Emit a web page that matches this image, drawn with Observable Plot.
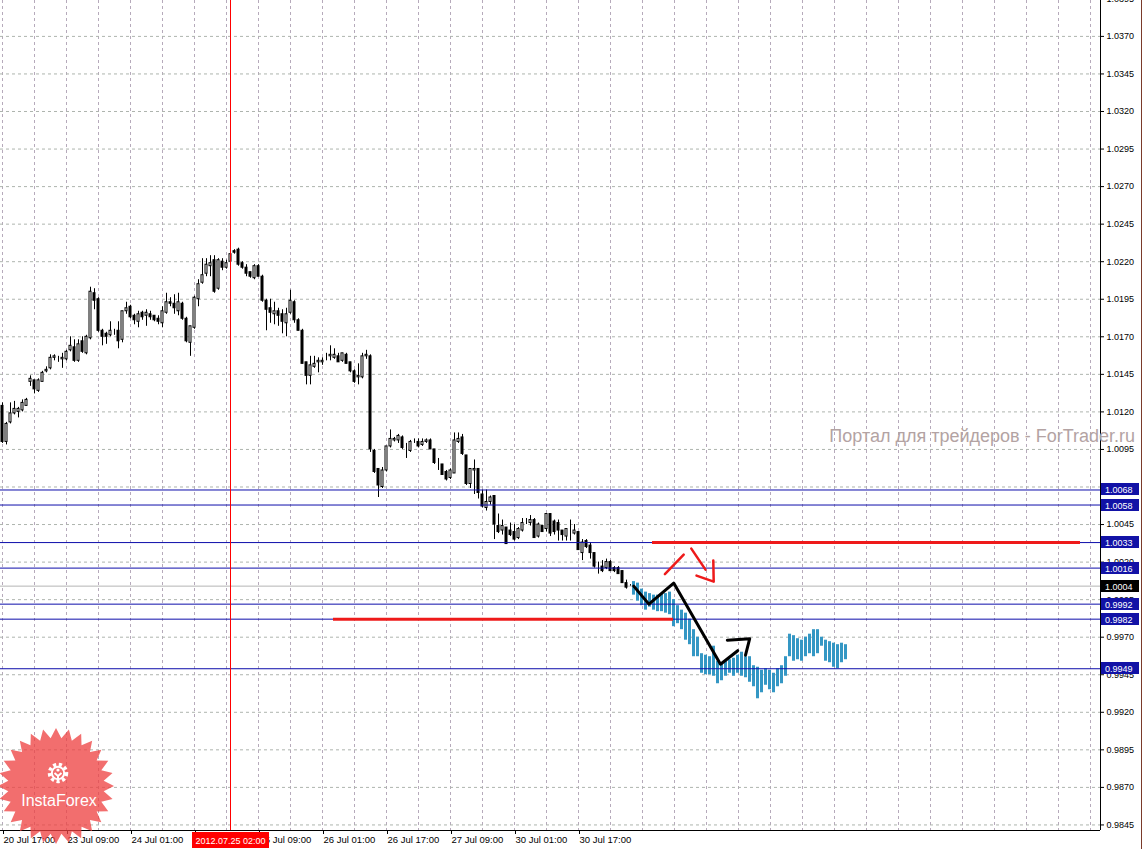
<!DOCTYPE html>
<html><head><meta charset="utf-8">
<script src="https://cdn.jsdelivr.net/npm/d3@7"></script>
<script src="https://cdn.jsdelivr.net/npm/@observablehq/plot@0.6"></script>
<style>
html,body{margin:0;padding:0;background:#fff;}
#chart{position:relative;width:1143px;height:849px;overflow:hidden;background:#fff;}
</style>
</head><body><div id="chart"></div>
<script>
// ---- H1 candles (bar index 0 = 20 Jul 17:00) ----
const open = [1.0124,1.0100,1.0113,1.0119,1.0120,1.0121,1.0124,1.0140,1.0141,1.0134,
1.0140,1.0147,1.0149,1.0156,1.0155,1.0155,1.0155,1.0161,1.0163,1.0154,
1.0167,1.0159,1.0169,1.0199,1.0195,1.0174,1.0172,1.0171,1.0173,1.0174,
1.0168,1.0187,1.0190,1.0184,1.0180,1.0186,1.0184,1.0185,1.0184,1.0182,
1.0179,1.0186,1.0193,1.0192,1.0187,1.0192,1.0182,1.0166,1.0176,1.0195,
1.0206,1.0212,1.0217,1.0221,1.0202,1.0220,1.0216,1.0220,1.0227,1.0228,
1.0219,1.0216,1.0213,1.0209,1.0217,1.0210,1.0194,1.0189,1.0185,1.0187,
1.0185,1.0179,1.0186,1.0193,1.0181,1.0174,1.0153,1.0144,1.0150,1.0153,
1.0153,1.0155,1.0157,1.0156,1.0157,1.0154,1.0158,1.0153,1.0147,1.0143,
1.0143,1.0157,1.0157,1.0094,1.0082,1.0070,1.0081,1.0097,1.0101,1.0101,
1.0103,1.0096,1.0094,1.0100,1.0100,1.0098,1.0100,1.0101,1.0095,1.0086,
1.0085,1.0080,1.0076,1.0079,1.0100,1.0103,1.0091,1.0072,1.0081,1.0082,
1.0065,1.0056,1.0060,1.0064,1.0044,1.0041,1.0043,1.0041,1.0040,1.0036,
1.0041,1.0047,1.0046,1.0048,1.0037,1.0044,1.0042,1.0052,1.0047,1.0046,
1.0041,1.0037,1.0040,1.0039,1.0040,1.0026,1.0034,1.0031,1.0026,1.0017,
1.0017,1.0016,1.0020,1.0016,1.0016,1.0014,1.0006,1.0004];
const high = [1.0126,1.0113,1.0126,1.0127,1.0123,1.0128,1.0129,1.0144,1.0141,1.0142,
1.0147,1.0150,1.0158,1.0158,1.0157,1.0159,1.0161,1.0170,1.0168,1.0168,
1.0170,1.0171,1.0203,1.0202,1.0196,1.0175,1.0173,1.0180,1.0175,1.0180,
1.0187,1.0193,1.0191,1.0185,1.0187,1.0187,1.0188,1.0187,1.0184,1.0184,
1.0190,1.0199,1.0196,1.0198,1.0199,1.0193,1.0183,1.0177,1.0197,1.0208,
1.0222,1.0222,1.0224,1.0224,1.0222,1.0222,1.0221,1.0226,1.0228,1.0229,
1.0220,1.0218,1.0213,1.0218,1.0218,1.0211,1.0195,1.0195,1.0193,1.0189,
1.0188,1.0189,1.0201,1.0194,1.0182,1.0175,1.0153,1.0157,1.0157,1.0156,
1.0156,1.0159,1.0164,1.0162,1.0159,1.0159,1.0159,1.0153,1.0148,1.0152,
1.0159,1.0161,1.0158,1.0095,1.0082,1.0083,1.0097,1.0108,1.0103,1.0105,
1.0104,1.0099,1.0101,1.0102,1.0102,1.0102,1.0102,1.0102,1.0095,1.0089,
1.0085,1.0081,1.0082,1.0106,1.0106,1.0105,1.0091,1.0082,1.0088,1.0082,
1.0068,1.0068,1.0064,1.0064,1.0052,1.0048,1.0043,1.0046,1.0045,1.0043,
1.0049,1.0049,1.0051,1.0049,1.0046,1.0044,1.0052,1.0052,1.0048,1.0048,
1.0041,1.0042,1.0048,1.0045,1.0040,1.0035,1.0035,1.0033,1.0026,1.0020,
1.0021,1.0022,1.0021,1.0017,1.0017,1.0014,1.0008,1.0005];
const low = [1.0099,1.0098,1.0112,1.0118,1.0116,1.0120,1.0124,1.0137,1.0132,1.0133,
1.0140,1.0146,1.0148,1.0154,1.0153,1.0149,1.0154,1.0160,1.0153,1.0153,
1.0159,1.0158,1.0168,1.0188,1.0173,1.0164,1.0165,1.0170,1.0171,1.0162,
1.0166,1.0185,1.0182,1.0178,1.0176,1.0181,1.0177,1.0181,1.0180,1.0178,
1.0176,1.0185,1.0190,1.0185,1.0184,1.0181,1.0166,1.0157,1.0175,1.0190,
1.0205,1.0210,1.0210,1.0199,1.0201,1.0214,1.0215,1.0219,1.0225,1.0217,
1.0215,1.0210,1.0209,1.0208,1.0210,1.0193,1.0174,1.0179,1.0178,1.0177,
1.0172,1.0170,1.0185,1.0179,1.0174,1.0152,1.0138,1.0138,1.0149,1.0146,
1.0151,1.0154,1.0154,1.0155,1.0153,1.0153,1.0152,1.0146,1.0139,1.0138,
1.0142,1.0155,1.0093,1.0079,1.0063,1.0069,1.0080,1.0096,1.0100,1.0099,
1.0095,1.0089,1.0093,1.0099,1.0096,1.0097,1.0099,1.0095,1.0085,1.0081,
1.0078,1.0074,1.0075,1.0079,1.0099,1.0091,1.0071,1.0069,1.0065,1.0062,
1.0056,1.0054,1.0058,1.0035,1.0039,1.0038,1.0032,1.0037,1.0034,1.0035,
1.0040,1.0045,1.0044,1.0036,1.0036,1.0040,1.0040,1.0037,1.0038,1.0034,
1.0034,1.0034,1.0034,1.0038,1.0028,1.0021,1.0029,1.0022,1.0016,1.0012,
1.0013,1.0015,1.0014,1.0013,1.0012,1.0006,1.0002,1.0004];
const close = [1.0100,1.0112,1.0119,1.0122,1.0122,1.0126,1.0128,1.0142,1.0135,1.0141,
1.0146,1.0148,1.0156,1.0157,1.0155,1.0156,1.0160,1.0164,1.0154,1.0165,
1.0160,1.0170,1.0200,1.0194,1.0174,1.0170,1.0170,1.0174,1.0173,1.0167,
1.0187,1.0189,1.0183,1.0181,1.0185,1.0183,1.0186,1.0183,1.0181,1.0180,
1.0187,1.0193,1.0192,1.0189,1.0193,1.0182,1.0167,1.0177,1.0196,1.0205,
1.0211,1.0218,1.0219,1.0200,1.0221,1.0216,1.0219,1.0225,1.0226,1.0218,
1.0216,1.0212,1.0210,1.0217,1.0210,1.0194,1.0188,1.0186,1.0187,1.0184,
1.0180,1.0185,1.0194,1.0181,1.0174,1.0152,1.0144,1.0151,1.0152,1.0154,
1.0154,1.0155,1.0158,1.0158,1.0153,1.0159,1.0152,1.0147,1.0140,1.0144,
1.0157,1.0158,1.0095,1.0080,1.0071,1.0081,1.0097,1.0102,1.0102,1.0104,
1.0096,1.0096,1.0100,1.0100,1.0097,1.0100,1.0101,1.0095,1.0086,1.0086,
1.0078,1.0075,1.0081,1.0101,1.0102,1.0092,1.0072,1.0082,1.0082,1.0066,
1.0057,1.0060,1.0063,1.0045,1.0040,1.0044,1.0032,1.0038,1.0035,1.0042,
1.0046,1.0047,1.0048,1.0036,1.0045,1.0040,1.0052,1.0039,1.0040,1.0041,
1.0038,1.0042,1.0040,1.0041,1.0028,1.0033,1.0030,1.0026,1.0017,1.0017,
1.0014,1.0020,1.0014,1.0014,1.0012,1.0006,1.0003,1.0004];

// ---- forecast histogram (bars 158..211) ----
const forecastStart = 158;
const forecastHi = [1.0007,1.0006,1.0002,1.0000,0.9999,0.9998,0.9998,0.9999,0.9999,1.0000,
0.9995,0.9991,0.9988,0.9986,0.9982,0.9975,0.9970,0.9959,0.9958,0.9957,
0.9964,0.9954,0.9953,0.9954,0.9955,0.9956,0.9958,0.9960,0.9957,0.9957,
0.9951,0.9950,0.9948,0.9949,0.9948,0.9946,0.9949,0.9951,0.9957,0.9972,
0.9971,0.9969,0.9968,0.9970,0.9972,0.9975,0.9975,0.9970,0.9968,0.9967,
0.9966,0.9965,0.9966,0.9965];
const forecastLo = [0.9998,0.9994,0.9991,0.9988,0.9990,0.9988,0.9987,0.9987,0.9986,0.9985,
0.9977,0.9979,0.9975,0.9968,0.9965,0.9957,0.9957,0.9946,0.9945,0.9945,
0.9944,0.9939,0.9941,0.9944,0.9946,0.9944,0.9946,0.9944,0.9943,0.9940,
0.9937,0.9929,0.9933,0.9938,0.9935,0.9933,0.9937,0.9939,0.9944,0.9957,
0.9954,0.9955,0.9954,0.9957,0.9959,0.9957,0.9959,0.9964,0.9954,0.9953,
0.9950,0.9949,0.9953,0.9955];

// ---- levels ----
const levels = [1.0068, 1.0058, 1.0033, 1.0016, 0.9992, 0.9982, 0.9949];
const bidPrice = 1.0004;
const redSegY = [1.0033, 0.9982];
const redSegFrom = [162.5, 82.75];
const redSegTo = [269.5, 167.75];
const markerBar = 57;
const markerLabel = "2012.07.25 02:00";

// ---- hand-drawn path annotations (bar index, price) ----
const zigGroup = [0,0,0,0,0, 1,1,1];
const zigBar = [157.8,161.6,167.8,179.5,183.8, 181.2,186.8,185.75];
const zigPrice = [1.0004,0.9992,1.0006,0.9952,0.9961, 0.9968,0.9969,0.9958];
const redGroup = [0,0, 1,1, 2,2,2];
const redBar = [165.6,170.3, 172.2,175.75, 173.5,177.8,177.7];
const redPrice = [1.0012,1.0025, 1.0029,1.0015, 1.0011,1.0007,1.0021];

// ---- axes ----
const yTicks = [1.0395,1.0370,1.0345,1.0320,1.0295,1.0270,1.0245,1.0220,1.0195,1.0170,1.0145,1.0120,
1.0095,1.0070,1.0045,1.0020,0.9995,0.9970,0.9945,0.9920,0.9895,0.9870,0.9845];
const xTickBars = [0,16,32,48,64,80,96,112,128,144];
const xTickLabels = ["20 Jul 17:00","23 Jul 09:00","24 Jul 01:00","24 Jul 17:00","25 Jul 09:00",
"26 Jul 01:00","26 Jul 17:00","27 Jul 09:00","30 Jul 01:00","30 Jul 17:00"];
const gridBars = d3.range(0, 274, 8);
const watermark = "Портал для трейдеров - ForTrader.ru";
const logoText = "InstaForex";

// ---- build tables ----
const candles = open.map((o, i) => ({i, o, h: high[i], l: low[i], c: close[i]}));
const forecast = forecastHi.map((h, k) => ({i: forecastStart + k, hi: h, lo: forecastLo[k]}));
const redSegs = redSegY.map((y, k) => ({y, x1: redSegFrom[k], x2: redSegTo[k]}));
const zig = zigBar.map((b, k) => ({i: b, p: zigPrice[k], g: zigGroup[k]}));
const redArrows = redBar.map((b, k) => ({i: b, p: redPrice[k], g: redGroup[k]}));
const xLab = new Map(xTickBars.map((b, k) => [b, xTickLabels[k]]));

const xDomain = [-0.5, 274.5];
const yDomain = [0.98413, 1.03939];
const RED = "#ee1a1a";
const FONT = "'Liberation Sans', Arial, sans-serif";

const plot = Plot.plot({
  width: 1143, height: 849,
  marginTop: 0, marginRight: 43, marginBottom: 19, marginLeft: 0,
  x: {domain: xDomain, axis: null},
  y: {domain: yDomain, axis: null},
  style: {fontFamily: FONT, fontSize: "9px", background: "#fff", color: "#000"},
  marks: [
    Plot.gridX(gridBars, {stroke: "#b6aabb", strokeOpacity: 1, strokeDasharray: "3,3"}),
    Plot.gridY(yTicks, {stroke: "#aeb4ae", strokeOpacity: 1, strokeDasharray: "3,3"}),
    Plot.ruleY([bidPrice], {stroke: "#b4b4b4"}),
    Plot.rect(forecast, {x1: d => d.i - 0.5, x2: d => d.i + 0.25, y1: "lo", y2: "hi", fill: "#3497c4"}),
    Plot.ruleX(candles, {x: "i", y1: "l", y2: "h", stroke: "#000"}),
    Plot.rect(candles, {x1: d => d.i - 0.25, x2: d => d.i + 0.25, y1: "o", y2: "c",
      fill: d => d.c >= d.o ? "#fff" : "#000", stroke: "#000", strokeWidth: 1}),
    Plot.ruleY(levels, {stroke: "#0d0daa"}),
    Plot.ruleY(redSegs, {y: "y", x1: "x1", x2: "x2", stroke: RED, strokeWidth: 3}),
    Plot.ruleX([markerBar], {stroke: "#ff0000"}),
    Plot.line(zig, {x: "i", y: "p", z: "g", stroke: "#000", strokeWidth: 3, curve: "linear"}),
    Plot.line(redArrows, {x: "i", y: "p", z: "g", stroke: RED, strokeWidth: 2.5}),
    Plot.ruleY([yDomain[0]], {stroke: "#000"}),
    Plot.ruleX([xDomain[1]], {stroke: "#000"}),
    Plot.axisY(yTicks, {anchor: "right", tickFormat: d3.format(".4f"), tickSize: 3, tickPadding: 3, fontSize: 9, color: "#000"}),
    Plot.axisX(xTickBars, {anchor: "bottom", tickFormat: b => xLab.get(b), textAnchor: "start",
      tickSize: 4, tickPadding: 2, fontSize: 9.5, dx: 1, color: "#000"})
  ]
});
document.getElementById("chart").appendChild(plot);

// ---- overlays placed through the plot's scales ----
const svg = d3.select(plot);
const ys = plot.scale("y"), xs = plot.scale("x");
const ov = svg.append("g").attr("font-family", FONT);

// level price tags on the right axis
const tags = levels.map(v => ({v, fill: "#1212a6"})).concat([{v: bidPrice, fill: "#000"}]);
tags.forEach(t => {
  const y = Math.round(ys.apply(t.v));
  ov.append("rect").attr("x", 1101).attr("y", y - 6).attr("width", 38).attr("height", 12).attr("fill", t.fill);
  ov.append("text").attr("x", 1105).attr("y", y + 3.5).attr("text-anchor", "start").attr("fill", "#fff")
    .attr("font-size", 9).text(d3.format(".4f")(t.v));
});

// red date tag on the time axis
const mx = xs.apply(markerBar);
ov.append("rect").attr("x", mx - 38).attr("y", 832).attr("width", 77).attr("height", 16).attr("fill", "#ff0000");
ov.append("text").attr("x", mx + 0.5).attr("y", 844).attr("text-anchor", "middle").attr("fill", "#fff")
  .attr("font-size", 9).text(markerLabel);

// watermark
ov.append("text").attr("x", 1135).attr("y", 442).attr("text-anchor", "end").attr("fill", "#b3a3a3")
  .attr("font-size", 18).text(watermark);

// right border
ov.append("line").attr("x1", 1141.5).attr("x2", 1141.5).attr("y1", 0).attr("y2", 849)
  .attr("stroke", "#7a3a2a").attr("stroke-width", 1);

// InstaForex badge
const cx = 56, cy = 786, ro = 58, ri = 48, nSp = 28;
const pts = d3.range(nSp * 2).map(k => {
  const a = k * Math.PI / nSp - Math.PI / 2;
  const r = k % 2 === 0 ? ro : ri;
  return [cx + r * Math.cos(a), cy + r * Math.sin(a)];
});
const logo = ov.append("g");
logo.append("path").attr("d", "M" + pts.join("L") + "Z").attr("fill", "#ee4040").attr("fill-opacity", 0.76);
const gx = 58, gy = 773;
logo.append("circle").attr("cx", gx).attr("cy", gy).attr("r", 8.5).attr("fill", "none")
  .attr("stroke", "#fff").attr("stroke-width", 3.5).attr("stroke-dasharray", "3.2,2.6");
logo.append("circle").attr("cx", gx).attr("cy", gy).attr("r", 6.2).attr("fill", "none")
  .attr("stroke", "#fff").attr("stroke-width", 2);
logo.append("circle").attr("cx", gx).attr("cy", gy - 3).attr("r", 1.6).attr("fill", "#fff");
logo.append("path").attr("d", `M${gx-3.5},${gy} L${gx},${gy+3} L${gx+3.5},${gy} M${gx},${gy+3} L${gx},${gy+8}`)
  .attr("stroke", "#fff").attr("stroke-width", 2).attr("fill", "none");
logo.append("text").attr("x", 59).attr("y", 806).attr("text-anchor", "middle").attr("fill", "#fff")
  .attr("font-size", 16).text(logoText);
</script>
</body></html>
